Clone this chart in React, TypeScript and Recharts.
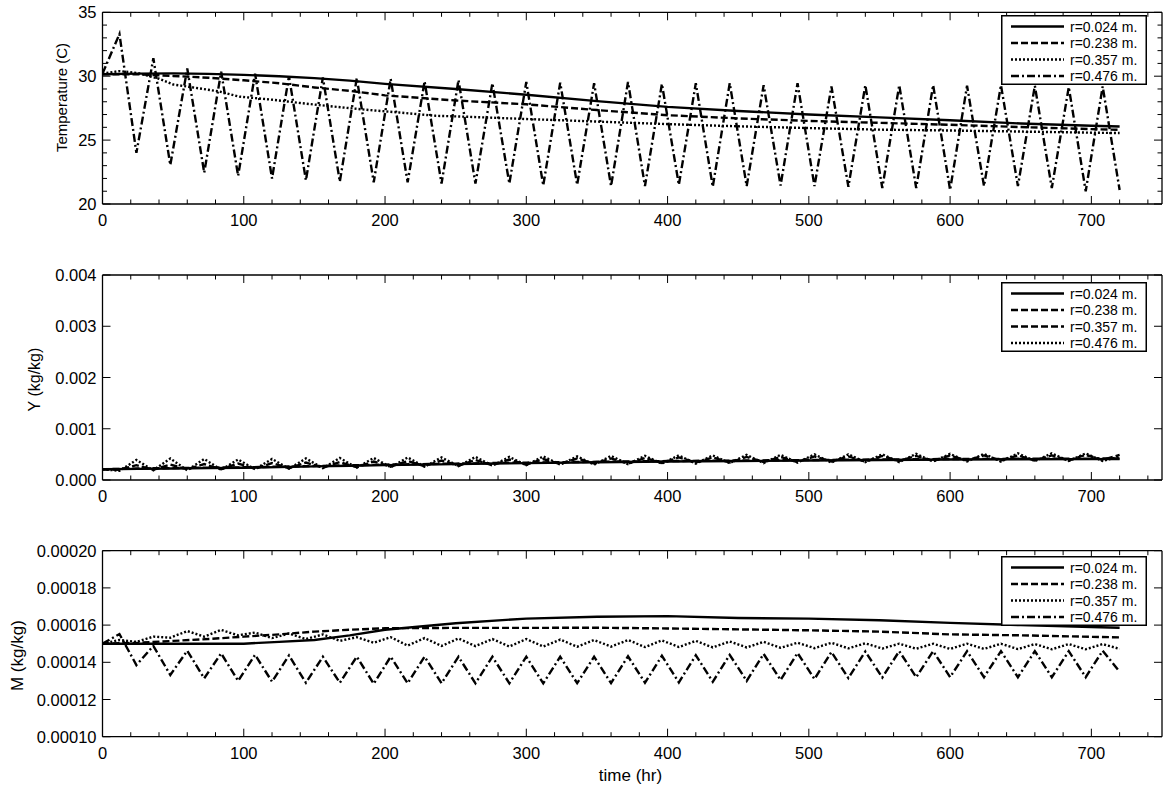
import { LineChart, Line, XAxis, YAxis, Legend, Label } from 'recharts'

const FONT = '"Liberation Sans", Arial, Helvetica, sans-serif'

// time axis (hr)
const hourTicks = [0, 20, 40, 60, 80, 100, 120, 140, 160, 180, 200, 220, 240, 260, 280, 300, 320, 340, 360, 380, 400, 420, 440, 460, 480, 500, 520, 540, 560, 580, 600, 620, 640, 660, 680, 700, 720, 740]
const hourLabels = [0, 100, 200, 300, 400, 500, 600, 700]

// daily cycle: hours of the afternoon maxima / night minima
const peakHours = [12, 36, 60, 84, 108, 132, 156, 180, 204, 228, 252, 276, 300, 324, 348, 372, 396, 420, 444, 468, 492, 516, 540, 564, 588, 612, 636, 660, 684, 708]
const troughHours = [24, 48, 72, 96, 120, 144, 168, 192, 216, 240, 264, 288, 312, 336, 360, 384, 408, 432, 456, 480, 504, 528, 552, 576, 600, 624, 648, 672, 696, 720]
const trendHours = [0, 25, 50, 75, 100, 125, 150, 175, 200, 250, 300, 350, 400, 450, 500, 550, 600, 650, 700, 720]

const radii = ['r=0.024 m.', 'r=0.238 m.', 'r=0.357 m.', 'r=0.476 m.']

// Temperature (C)
const tempR024 = [30.15, 30.2, 30.22, 30.18, 30.1, 30.0, 29.85, 29.65, 29.4, 29.0, 28.55, 28.05, 27.6, 27.28, 27.0, 26.78, 26.55, 26.3, 26.12, 26.06]
const tempR238 = [30.15, 30.15, 30.02, 29.88, 29.68, 29.45, 29.12, 28.85, 28.5, 28.1, 27.8, 27.35, 26.95, 26.7, 26.5, 26.35, 26.2, 26.02, 25.86, 25.8]
const tempR357Hours = [0, 12, 25, 40, 50, 63, 83, 97, 121, 140, 163, 187, 210, 236, 252, 300, 350, 400, 450, 500, 550, 600, 650, 700, 720]
const tempR357 = [30.2, 30.4, 30.25, 29.8, 29.35, 29.14, 28.8, 28.4, 28.15, 27.9, 27.63, 27.37, 27.16, 26.9, 26.85, 26.65, 26.45, 26.25, 26.08, 25.94, 25.82, 25.75, 25.67, 25.58, 25.55]
const tempR476Start = 30.2
const tempR476Peaks = [33.3, 31.4, 30.6, 30.35, 30.2, 30.0, 29.9, 29.85, 29.8, 29.6, 29.7, 29.45, 29.55, 29.5, 29.45, 29.55, 29.4, 29.45, 29.45, 29.3, 29.45, 29.2, 29.3, 29.3, 29.3, 29.25, 29.3, 29.25, 29.15, 29.2]
const tempR476Troughs = [24.0, 23.05, 22.45, 22.2, 22.0, 21.85, 21.75, 21.7, 21.7, 21.6, 21.6, 21.6, 21.45, 21.5, 21.4, 21.4, 21.5, 21.35, 21.4, 21.45, 21.4, 21.35, 21.25, 21.25, 21.1, 21.4, 21.4, 21.25, 21.0, 21.1]

// Y (kg/kg)
const yR024 = [0.00021, 0.000218, 0.000225, 0.000232, 0.00024, 0.000252, 0.000265, 0.000278, 0.00029, 0.00031, 0.00033, 0.000345, 0.00036, 0.00037, 0.00038, 0.00039, 0.0004, 0.000404, 0.000408, 0.00041]
const yR238 = [0.00021, 0.000225, 0.000233, 0.00024, 0.000248, 0.00026, 0.000273, 0.000287, 0.0003, 0.00032, 0.00034, 0.000355, 0.00037, 0.00038, 0.00039, 0.0004, 0.00041, 0.000414, 0.000418, 0.00042]
const yStart = 0.00021
const yR357Highs = [0.00029, 0.0003, 0.00031, 0.00032, 0.00033, 0.00034, 0.00035, 0.00036, 0.00037, 0.00038, 0.00039, 0.0004, 0.00041, 0.00042, 0.00042, 0.00043, 0.00044, 0.00044, 0.00045, 0.00045, 0.00046, 0.00046, 0.00047, 0.00047, 0.00048, 0.00048, 0.00048, 0.00048, 0.00049, 0.00049]
const yR357Lows = [0.0002, 0.0002, 0.00021, 0.00021, 0.00022, 0.00023, 0.00024, 0.00025, 0.00026, 0.00027, 0.00028, 0.00029, 0.0003, 0.00031, 0.00032, 0.00032, 0.00033, 0.00034, 0.00034, 0.00035, 0.00035, 0.00036, 0.00036, 0.00037, 0.00037, 0.00038, 0.00038, 0.00038, 0.00038, 0.00039]
const yR476Highs = [0.00039, 0.00042, 0.00041, 0.0004, 0.00041, 0.00042, 0.00043, 0.00043, 0.00044, 0.00044, 0.00045, 0.00045, 0.00046, 0.00046, 0.00047, 0.00047, 0.00048, 0.00048, 0.00049, 0.00049, 0.0005, 0.0005, 0.0005, 0.00051, 0.00051, 0.00051, 0.00052, 0.00052, 0.00052, 0.00046]
const yR476Lows = [0.00018, 0.00019, 0.00019, 0.0002, 0.00021, 0.00022, 0.00023, 0.00024, 0.00025, 0.00026, 0.00027, 0.00028, 0.00029, 0.0003, 0.0003, 0.00031, 0.00032, 0.00032, 0.00033, 0.00033, 0.00034, 0.00034, 0.00035, 0.00035, 0.00036, 0.00036, 0.00036, 0.00037, 0.00037, 0.00037]

// M (kg/kg)
const mR024 = [0.00015, 0.00015, 0.00015, 0.00015, 0.00015, 0.000151, 0.000152, 0.0001545, 0.0001575, 0.000161, 0.0001635, 0.0001645, 0.0001648, 0.0001638, 0.0001635, 0.0001626, 0.0001612, 0.00016, 0.000159, 0.0001586]
const mR238 = [0.00015, 0.0001505, 0.0001515, 0.0001525, 0.0001538, 0.000155, 0.0001565, 0.0001575, 0.0001583, 0.0001585, 0.0001585, 0.0001586, 0.0001582, 0.0001577, 0.0001572, 0.0001565, 0.000155, 0.0001545, 0.0001537, 0.0001534]
const mStart = 0.00015
const mR357Peaks = [0.000152, 0.0001538, 0.0001568, 0.0001574, 0.000156, 0.0001555, 0.000155, 0.0001535, 0.0001535, 0.000153, 0.0001528, 0.0001525, 0.0001525, 0.0001522, 0.000152, 0.000152, 0.0001518, 0.0001515, 0.0001512, 0.000151, 0.0001505, 0.0001505, 0.0001502, 0.00015, 0.00015, 0.00015, 0.00015, 0.0001498, 0.0001498, 0.0001498]
const mR357Troughs = [0.000151, 0.0001532, 0.0001538, 0.0001545, 0.000153, 0.0001525, 0.0001515, 0.0001505, 0.000149, 0.0001488, 0.0001487, 0.0001485, 0.0001485, 0.0001484, 0.0001484, 0.0001482, 0.0001482, 0.000148, 0.000148, 0.0001478, 0.0001476, 0.0001475, 0.0001474, 0.0001473, 0.0001472, 0.0001472, 0.0001471, 0.000147, 0.000147, 0.0001472]
const mR476Peaks = [0.0001552, 0.0001488, 0.0001462, 0.0001448, 0.000144, 0.0001437, 0.000143, 0.000143, 0.000143, 0.000143, 0.000143, 0.000143, 0.000143, 0.000143, 0.000143, 0.0001432, 0.0001435, 0.0001438, 0.000144, 0.0001445, 0.000145, 0.0001455, 0.0001458, 0.000146, 0.000146, 0.000146, 0.000146, 0.000146, 0.000146, 0.0001462]
const mR476Troughs = [0.0001385, 0.0001332, 0.0001314, 0.00013, 0.0001296, 0.000129, 0.000129, 0.0001285, 0.0001287, 0.0001287, 0.0001287, 0.0001287, 0.0001287, 0.0001288, 0.0001288, 0.000129, 0.0001292, 0.0001295, 0.00013, 0.0001305, 0.000131, 0.0001315, 0.0001318, 0.000132, 0.000132, 0.000132, 0.000132, 0.000132, 0.000132, 0.000135]

type Pt = { t: number; v: number }

const pairs = (hours: number[], values: number[]): Pt[] => hours.map((t, i) => ({ t, v: values[i] }))

// merge start value, maxima and minima into one time-ordered series
function cycle(start: number, hiHours: number[], hi: number[], loHours: number[], lo: number[]): Pt[] {
  return [{ t: 0, v: start }, ...pairs(hiHours, hi), ...pairs(loHours, lo)].sort((a, b) => a.t - b.t)
}

const SOLID = undefined
const DASHED = '7 3'
const DOTTED = '2 2'
const DASHDOT = '8 3 2 3'
const LINE_W = 2.4

type Series = { name: string; data: Pt[]; dash?: string }

const isIn = (list: number[], v: number) => list.some((m) => Math.abs(m - v) < 1e-12)

function tickRenderer(side: 'top' | 'bottom' | 'left' | 'right', labels: number[], fmt: (v: number) => string) {
  return (p: any) => {
    const { x, y, payload } = p
    const v = payload.value
    const major = isIn(labels, v)
    const len = major ? 8 : 4.5
    let x2 = x
    let y2 = y
    if (side === 'bottom') y2 = y - len
    if (side === 'top') y2 = y + len
    if (side === 'left') x2 = x + len
    if (side === 'right') x2 = x - len
    return (
      <g>
        <line x1={x} y1={y} x2={x2} y2={y2} stroke="#000" strokeWidth={1} />
        {major && side === 'bottom' && (
          <text x={x} y={y + 22} textAnchor="middle" fontSize={16.5} fontFamily={FONT} fill="#000">{fmt(v)}</text>
        )}
        {major && side === 'left' && (
          <text x={x - 6} y={y + 6} textAnchor="end" fontSize={16.5} fontFamily={FONT} fill="#000">{fmt(v)}</text>
        )}
      </g>
    )
  }
}

function LegendBox({ series }: { series: Series[] }) {
  return (
    <svg width={146} height={70} style={{ display: 'block' }}>
      <rect x={0.75} y={0.75} width={144.5} height={68.5} fill="#fff" stroke="#000" strokeWidth={1.5} />
      {series.map((s, i) => {
        const cy = 11.5 + i * 16.5
        return (
          <g key={s.name}>
            <line x1={10} x2={63} y1={cy} y2={cy} stroke="#000" strokeWidth={LINE_W} strokeDasharray={s.dash} />
            <text x={69} y={cy + 5} fontSize={14} fontFamily={FONT} fill="#000">{s.name}</text>
          </g>
        )
      })}
    </svg>
  )
}

type PanelProps = {
  top: number
  height: number
  marginTop: number
  bottomAxis: number
  yDomain: [number, number]
  yTicks: number[]
  yLabels: number[]
  yFmt: (v: number) => string
  title: string
  titleX: number
  titleY: number
  titleSize: number
  series: Series[]
  legendTop: number
  xTitle?: string
}

function Panel(props: PanelProps) {
  const { top, height, marginTop, bottomAxis, yDomain, yTicks, yLabels, yFmt, title, titleX, titleY, titleSize, series, legendTop, xTitle } = props
  const frame = { stroke: '#000', strokeWidth: 1.3 }
  return (
    <div style={{ position: 'absolute', left: 0, top }}>
      <LineChart width={1164} height={height} margin={{ top: marginTop, right: 1, bottom: 1, left: 62.5 }}>
        <XAxis type="number" dataKey="t" domain={[0, 750]} allowDataOverflow ticks={hourTicks} interval={0}
          tickSize={0} tickMargin={0} tickLine={false} axisLine={frame} height={bottomAxis}
          tick={tickRenderer('bottom', hourLabels, (v) => String(v))}>
          {xTitle && (
            <Label content={() => (
              <text x={630.5} y={251} textAnchor="middle" fontSize={17} fontFamily={FONT} fill="#000">{xTitle}</text>
            )} />
          )}
        </XAxis>
        <XAxis xAxisId="top" orientation="top" type="number" dataKey="t" domain={[0, 750]} allowDataOverflow ticks={hourTicks}
          interval={0} tickSize={0} tickMargin={0} tickLine={false} axisLine={frame} height={1}
          tick={tickRenderer('top', hourLabels, (v) => String(v))} />
        <YAxis type="number" domain={yDomain} allowDataOverflow ticks={yTicks} interval={0} width={40}
          tickSize={0} tickMargin={0} tickLine={false} axisLine={frame}
          tick={tickRenderer('left', yLabels, yFmt)}>
          <Label content={() => (
            <text x={titleX} y={titleY} transform={`rotate(-90 ${titleX} ${titleY})`} textAnchor="middle"
              dominantBaseline="central" fontSize={titleSize} fontFamily={FONT} fill="#000">{title}</text>
          )} />
        </YAxis>
        <YAxis yAxisId="right" orientation="right" type="number" domain={yDomain} allowDataOverflow ticks={yTicks}
          interval={0} width={1} tickSize={0} tickMargin={0} tickLine={false} axisLine={frame}
          tick={tickRenderer('right', yLabels, yFmt)} />
        {series.map((s) => (
          <Line key={s.name} data={s.data} dataKey="v" name={s.name} type="linear" stroke="#000" strokeWidth={LINE_W}
            strokeDasharray={s.dash} dot={false} activeDot={false} isAnimationActive={false} />
        ))}
        <Legend layout="vertical" align="center" verticalAlign="middle"
          wrapperStyle={{ left: 1000.5, top: legendTop, width: 146, height: 70 }}
          content={() => <LegendBox series={series} />} />
      </LineChart>
    </div>
  )
}

export default function App() {
  const tempSeries: Series[] = [
    { name: radii[0], data: pairs(trendHours, tempR024), dash: SOLID },
    { name: radii[1], data: pairs(trendHours, tempR238), dash: DASHED },
    { name: radii[2], data: pairs(tempR357Hours, tempR357), dash: DOTTED },
    { name: radii[3], data: cycle(tempR476Start, peakHours, tempR476Peaks, troughHours, tempR476Troughs), dash: DASHDOT },
  ]
  const ySeries: Series[] = [
    { name: radii[0], data: pairs(trendHours, yR024), dash: SOLID },
    { name: radii[1], data: pairs(trendHours, yR238), dash: DASHED },
    { name: radii[2], data: cycle(yStart, troughHours, yR357Highs, peakHours, yR357Lows), dash: DASHED },
    { name: radii[3], data: cycle(yStart, troughHours, yR476Highs, peakHours, yR476Lows), dash: DOTTED },
  ]
  const mSeries: Series[] = [
    { name: radii[0], data: pairs(trendHours, mR024), dash: SOLID },
    { name: radii[1], data: pairs(trendHours, mR238), dash: DASHED },
    { name: radii[2], data: cycle(mStart, peakHours, mR357Peaks, troughHours, mR357Troughs), dash: DOTTED },
    { name: radii[3], data: cycle(mStart, peakHours, mR476Peaks, troughHours, mR476Troughs), dash: DASHDOT },
  ]

  return (
    <div style={{ position: 'absolute', left: 0, top: 0, width: 1164, height: 787, background: '#fff' }}>
      <Panel top={0} height={235} marginTop={11.3} bottomAxis={30}
        yDomain={[20, 35]} yTicks={[20, 21, 22, 23, 24, 25, 26, 27, 28, 29, 30, 31, 32, 33, 34, 35]} yLabels={[20, 25, 30, 35]}
        yFmt={(v) => String(v)} title="Temperature (C)" titleX={61} titleY={97.5} titleSize={15}
        series={tempSeries} legendTop={15} />
      <Panel top={250} height={260} marginTop={24} bottomAxis={29}
        yDomain={[0, 0.004]} yTicks={[0, 0.001, 0.002, 0.003, 0.004]} yLabels={[0, 0.001, 0.002, 0.003, 0.004]}
        yFmt={(v) => v.toFixed(3)} title="Y (kg/kg)" titleX={34.5} titleY={129.5} titleSize={16}
        series={ySeries} legendTop={31.5} />
      <Panel top={530} height={257} marginTop={19.7} bottomAxis={49.3}
        yDomain={[0.0001, 0.0002]} yTicks={[0.0001, 0.00012, 0.00014, 0.00016, 0.00018, 0.0002]}
        yLabels={[0.0001, 0.00012, 0.00014, 0.00016, 0.00018, 0.0002]}
        yFmt={(v) => v.toFixed(5)} title="M (kg/kg)" titleX={17.5} titleY={125.6} titleSize={17}
        series={mSeries} legendTop={26} xTitle="time (hr)" />
    </div>
  )
}
